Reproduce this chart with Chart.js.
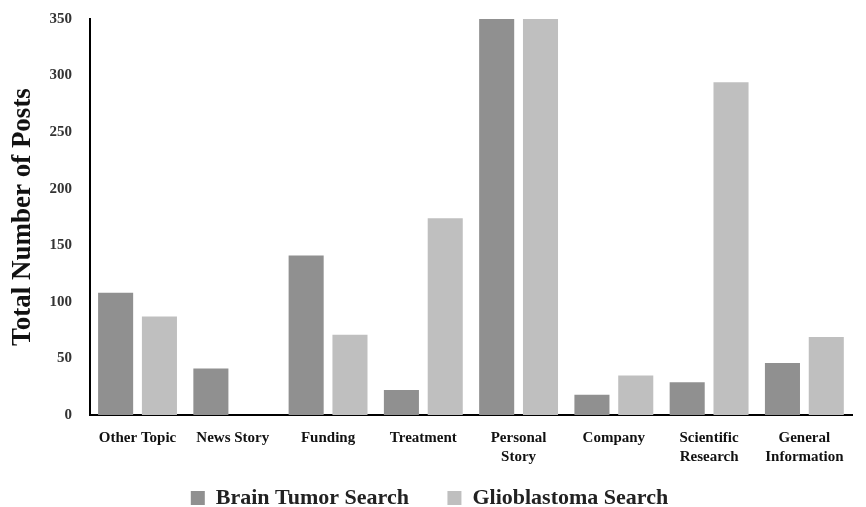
<!DOCTYPE html>
<html>
<head>
<meta charset="utf-8">
<script src="https://cdn.jsdelivr.net/npm/chart.js@4"></script>
<style>
  html, body { margin: 0; padding: 0; background: #fff; }
  #wrap { width: 866px; height: 507px; }
</style>
</head>
<body>
<div id="wrap"><canvas id="myChart"></canvas></div>
<script>
// data
var categories = [
  "Other Topic",
  "News Story",
  "Funding",
  "Treatment",
  ["Personal", "Story"],
  "Company",
  ["Scientific", "Research"],
  ["General", "Information"],
];
var brainTumor = [108, 41, 141, 22, 350, 18, 29, 46];
var glioblastoma = [87, 0, 71, 174, 350, 35, 294, 69];
var yTicks = [0, 50, 100, 150, 200, 250, 300, 350];

// push the legend down to the very bottom edge, like the original
var moveLegend = {
  id: "moveLegend",
  afterLayout: function (chart) {
    chart.legend.top += 15;
    chart.legend.bottom += 15;
  },
};

// Main Chart
var ctx = document.getElementById("myChart").getContext("2d");
var myChart = new Chart(ctx, {
  type: "bar",
  plugins: [moveLegend],
  data: {
    labels: categories,
    datasets: [
      {
        label: "Brain Tumor Search",
        backgroundColor: "#909090",
        data: brainTumor,
      },
      {
        label: "Glioblastoma Search",
        backgroundColor: "#bfbfbf",
        data: glioblastoma,
      },
    ],
  },
  options: {
    responsive: true,
    maintainAspectRatio: false,
    animation: false,
    categoryPercentage: 0.92,
    barPercentage: 0.8,
    layout: {
      padding: { top: 2, right: 14, left: 7, bottom: 3 },
    },
    plugins: {
      tooltip: { enabled: false },
      legend: {
        position: "bottom",
        labels: {
          color: "#222",
          boxWidth: 14,
          boxHeight: 14,
          padding: 0,
          font: { family: "Liberation Serif", size: 22, weight: "bold" },
          generateLabels: function (chart) {
            var items = Chart.defaults.plugins.legend.labels.generateLabels(chart);
            // extra room between the two legend entries
            items[0].text = items[0].text + "       ";
            return items;
          },
        },
      },
    },
    scales: {
      x: {
        grid: { display: false },
        border: { display: true, color: "#000", width: 2 },
        ticks: {
          color: "#111",
          maxRotation: 0,
          autoSkip: false,
          padding: 5,
          font: { family: "Liberation Serif", size: 15, weight: "bold", lineHeight: 1.3 },
        },
      },
      y: {
        min: 0,
        max: 350,
        afterBuildTicks: function (axis) {
          axis.ticks = yTicks.map(function (v) { return { value: v }; });
        },
        grid: { display: false },
        border: { display: true, color: "#000", width: 2 },
        ticks: {
          color: "#333",
          padding: 10,
          font: { family: "Liberation Serif", size: 15, weight: "bold" },
        },
        title: {
          display: true,
          text: "Total Number of Posts",
          color: "#111",
          padding: 0,
          font: { family: "Liberation Serif", size: 27, weight: "bold" },
        },
      },
    },
  },
});
</script>
</body>
</html>
